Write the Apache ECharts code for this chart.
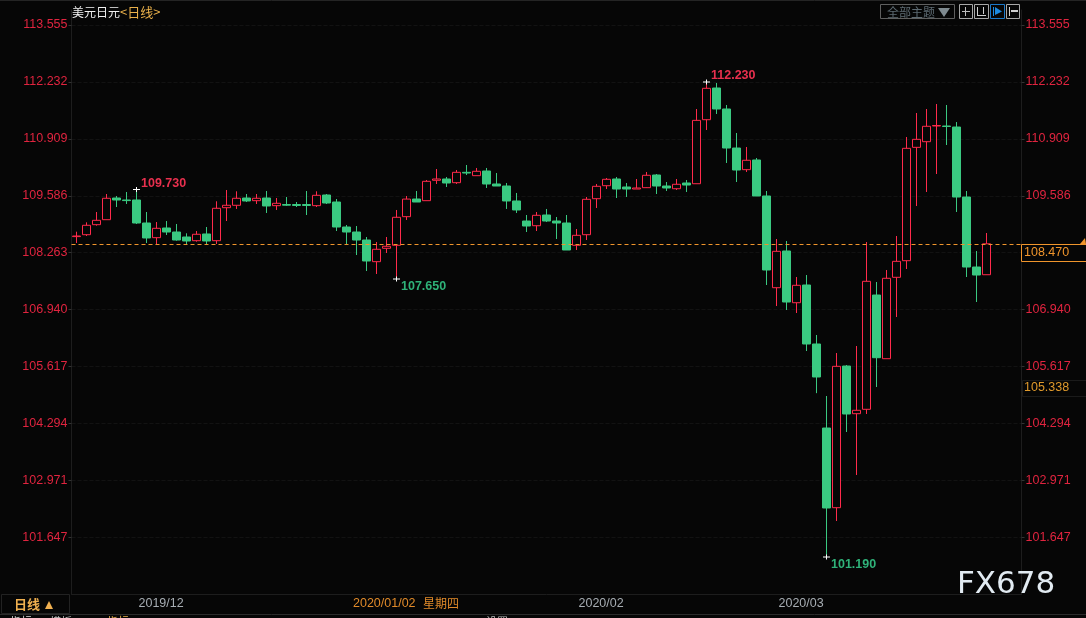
<!DOCTYPE html>
<html><head><meta charset="utf-8">
<style>html,body{margin:0;padding:0;background:#060606}#c{width:1086px;height:618px}</style>
<script src="https://cdn.jsdelivr.net/npm/echarts@6/dist/echarts.min.js"></script>
</head><body><div id="c"></div>
<script>
const dates=['2019/11/22','2019/11/25','2019/11/26','2019/11/27','2019/11/28','2019/11/29',
'2019/12/02','2019/12/03','2019/12/04','2019/12/05','2019/12/06','2019/12/09','2019/12/10','2019/12/11','2019/12/12','2019/12/13',
'2019/12/16','2019/12/17','2019/12/18','2019/12/19','2019/12/20','2019/12/23','2019/12/24','2019/12/26','2019/12/27','2019/12/30','2019/12/31',
'2020/01/01','2020/01/02','2020/01/03','2020/01/06','2020/01/07','2020/01/08','2020/01/09','2020/01/10','2020/01/13','2020/01/14','2020/01/15','2020/01/16','2020/01/17',
'2020/01/20','2020/01/21','2020/01/22','2020/01/23','2020/01/24','2020/01/27','2020/01/28','2020/01/29','2020/01/30','2020/01/31',
'2020/02/03','2020/02/04','2020/02/05','2020/02/06','2020/02/07','2020/02/10','2020/02/11','2020/02/12','2020/02/13','2020/02/14',
'2020/02/17','2020/02/18','2020/02/19','2020/02/20','2020/02/21','2020/02/24','2020/02/25','2020/02/26','2020/02/27','2020/02/28',
'2020/03/02','2020/03/03','2020/03/04','2020/03/05','2020/03/06','2020/03/09','2020/03/10','2020/03/11','2020/03/12','2020/03/13',
'2020/03/16','2020/03/17','2020/03/18','2020/03/19','2020/03/20','2020/03/23','2020/03/24','2020/03/25','2020/03/26','2020/03/27','2020/03/30','2020/03/31',
'','',''];
const opens=[108.637,108.681,108.914,109.030,109.534,109.488,109.488,108.953,108.612,108.837,108.744,108.628,108.542,108.698,108.542,109.309,109.365,109.534,109.472,109.534,109.356,109.383,109.383,109.383,109.356,109.604,109.441,108.860,108.744,108.558,108.054,108.365,108.435,109.100,109.511,109.472,109.946,109.976,109.890,110.131,110.053,110.162,109.860,109.813,109.465,108.999,108.890,109.139,108.999,108.953,108.435,108.681,109.518,109.820,109.976,109.790,109.743,109.774,110.069,109.813,109.750,109.883,109.866,111.354,112.091,111.603,110.696,110.193,110.418,109.581,107.449,108.303,107.100,107.512,106.141,104.188,102.336,105.629,104.521,104.623,107.279,105.799,107.691,108.077,110.712,110.843,111.208,111.208,111.184,109.557,107.930,107.751];
const closes=[108.651,108.900,109.016,109.528,109.488,109.474,108.953,108.605,108.830,108.744,108.558,108.535,108.691,108.535,109.295,109.365,109.528,109.465,109.528,109.349,109.411,109.367,109.360,109.360,109.597,109.418,108.860,108.744,108.558,108.070,108.342,108.412,109.086,109.509,109.441,109.922,109.976,109.883,110.131,110.115,110.155,109.860,109.813,109.465,109.256,108.883,109.132,108.999,108.953,108.325,108.667,109.504,109.806,109.969,109.743,109.743,109.767,110.062,109.813,109.767,109.853,109.836,111.339,112.084,111.603,110.696,110.185,110.411,109.581,107.861,108.295,107.117,107.505,106.141,105.374,102.329,105.622,104.514,104.600,107.598,105.822,107.668,108.062,110.689,110.898,111.201,111.219,111.196,109.557,107.930,107.744,108.470];
const lows=[108.488,108.651,108.891,109.030,109.325,109.395,108.930,108.488,108.458,108.674,108.542,108.465,108.519,108.465,108.465,108.999,109.279,109.441,109.395,109.186,109.256,109.349,109.325,109.139,109.325,109.395,108.767,108.465,108.209,107.837,107.768,108.256,107.650,109.023,109.441,109.472,109.860,109.790,109.860,110.069,110.053,109.767,109.813,109.279,109.186,108.744,108.767,108.976,108.581,108.325,108.325,108.558,109.302,109.743,109.534,109.558,109.743,109.767,109.627,109.697,109.720,109.674,109.866,111.115,111.487,110.348,109.906,110.139,109.581,107.512,107.023,106.931,106.861,105.978,104.998,101.190,102.027,104.095,103.096,104.514,105.141,105.799,106.768,107.884,109.348,109.674,110.092,110.766,109.209,107.698,107.117,107.751];
const highs=[108.751,108.969,109.209,109.627,109.581,109.674,109.730,109.209,108.976,108.999,108.930,108.714,108.767,108.860,109.458,109.720,109.690,109.627,109.627,109.697,109.534,109.558,109.441,109.697,109.690,109.627,109.511,108.907,108.883,108.628,108.512,108.628,109.256,109.581,109.697,109.953,110.208,110.022,110.185,110.301,110.232,110.232,110.115,109.883,109.651,109.139,109.209,109.279,109.093,109.139,108.814,109.558,109.860,109.999,110.022,109.883,109.976,110.139,110.092,109.906,109.976,109.953,111.603,112.230,112.207,111.696,111.045,110.720,110.464,109.697,108.581,108.534,107.698,107.744,106.350,104.932,105.931,105.652,106.094,108.511,107.582,107.861,108.651,110.952,111.510,111.603,111.719,111.696,111.300,109.697,108.302,108.721];
const priceTicks=[113.555,112.232,110.909,109.586,108.263,106.940,105.617,104.294,102.971,101.647];
const monthLabels={'2019/12/02':'2019/12','2020/02/03':'2020/02','2020/03/02':'2020/03'};
const peakHighs=[[6,109.730],[63,112.230]];
const peakLows=[[32,107.650],[75,101.190]];
const lastPrice=108.470, refPrice='105.338';

const RED='#ff2a4b',GREEN='#3ac981',BG='#060606',ORANGE='#f0952c',AXIS='#1d1d1d',TICKRED='#e0243f';
const font='"Liberation Sans",Arial,sans-serif', cjk='"Noto Sans CJK SC","Liberation Sans",sans-serif';
const data=opens.map((o,i)=>[o,closes[i],lows[i],highs[i]]);

function box(x,y,w,h,stroke,fill){return{type:'rect',silent:true,z:100,shape:{x:x+.5,y:y+.5,width:w,height:h},style:{stroke,fill:fill||'transparent',lineWidth:1}};}
function seg(x1,y1,x2,y2,c,w){return{type:'line',silent:true,z:101,shape:{x1,y1,x2,y2},style:{stroke:c,lineWidth:w||1}};}
function txt(x,y,t,f,c,s,weight){return{type:'text',silent:true,z:102,x,y,style:{text:t,font:(weight||'normal')+' '+s+'px '+f,fill:c,verticalAlign:'middle'}};}
function tri(pts,c){return{type:'polygon',silent:true,z:101,shape:{points:pts},style:{fill:c}};}

const graphics=[
  seg(0,0.5,1086,0.5,'#242424'),
  txt(72,12.5,'美元日元',cjk,'#f0f0f0',12),
  txt(120,12.5,'<日线>',cjk,'#e9b04a',13),
  box(880,4,74,14,'#5f5f5f'),
  txt(887,12,'全部主题',cjk,'#5d6a72',12),
  tri([[938,8],[950,8],[944,17]],'#7f8a90'),
  box(959,4,13,14,'#a8a8a8'),seg(962,11.5,970,11.5,'#bdbdbd'),seg(965.5,7,965.5,16,'#bdbdbd'),
  box(974,4,14,14,'#a8a8a8'),seg(977.5,7,977.5,16,'#cfcfcf'),seg(977,15.5,986,15.5,'#cfcfcf'),seg(983.5,7,983.5,14,'#cfcfcf'),
  box(990,4,14,14,'#1c78c8'),seg(993.5,7,993.5,16,'#1c8ae0'),tri([[995,7],[1002,11.5],[995,15]],'#1c8ae0'),
  box(1006,4,13,14,'#a8a8a8'),seg(1009.5,7,1009.5,16,'#cfcfcf'),seg(1011,11,1018,11,'#cfcfcf',2),
  // bottom strip
  box(1,594,68,19,'#222222'),
  txt(14,604,'日线',cjk,'#f0b050',13,'bold'),
  tri([[45,609],[53,609],[49,601]],'#f0b050'),
  txt(353,603.5,'2020/01/02',font,'#e08a2a',12.5),
  txt(423,603.5,'星期四',cjk,'#e08a2a',12),
  seg(0,614.5,1086,614.5,'#2b2b2b'),
  txt(10,622,'指标',cjk,'#d8d8d8',11),txt(50,622,'模板',cjk,'#bdbdbd',11),txt(107,622,'指标',cjk,'#e9b04a',11),txt(486,622,'设置',cjk,'#bdbdbd',11),
  // right side price boxes
  box(1021,244,66,17,ORANGE,BG),
  txt(1024,253,'108.470',font,ORANGE,12.5),
  box(1022,380,66,16,'#1a1a1a',BG),
  txt(1024,388,refPrice,font,'#e09a2c',12.5),
  tri([[1080,244],[1085,238],[1086,244]],ORANGE),
  // watermark
  txt(957,584.5,'FX678','"DejaVu Sans",sans-serif','#e2ebf2',31)
];

const yAxisBase=(position)=>({
  type:'value',position,min:100.330,max:113.904,
  axisLine:{show:true,onZero:false,lineStyle:{color:AXIS}},
  axisTick:{show:true,length:3,customValues:priceTicks,lineStyle:{color:'#333'}},
  axisLabel:{show:true,customValues:priceTicks,margin:4,color:TICKRED,fontSize:12.5,fontFamily:font,
    formatter:v=>Number(v).toFixed(3),showMinLabel:true,showMaxLabel:true},
  splitLine:{show:position==='left',lineStyle:{color:'#121212',type:'dashed'}}
});

const peakPoint=(p,dy,color)=>({coord:[p[0],p[1]],value:p[1].toFixed(3),
  label:{show:true,position:'right',distance:1,offset:[0,dy],formatter:p[1].toFixed(3),color,fontSize:12.5,fontWeight:'bold',fontFamily:font}});

const chart=echarts.init(document.getElementById('c'),null,{renderer:'canvas',width:1086,height:618});
chart.setOption({
  animation:false,backgroundColor:BG,
  grid:{left:71.5,top:10,width:950,bottom:24,containLabel:false},
  xAxis:{type:'category',data:dates,boundaryGap:true,
    axisLine:{show:true,onZero:false,lineStyle:{color:AXIS}},
    axisTick:{show:false},splitLine:{show:false},
    axisLabel:{show:true,hideOverlap:false,align:'left',margin:3,color:'#a7adb3',fontSize:12.5,fontFamily:font,
      padding:[0,0,0,2],
      interval:(i,v)=>v in monthLabels,formatter:v=>monthLabels[v]||''}},
  yAxis:[yAxisBase('left'),yAxisBase('right')],
  series:[{type:'candlestick',data,yAxisIndex:0,barWidth:8,
    itemStyle:{color:BG,color0:GREEN,borderColor:RED,borderColor0:GREEN,borderWidth:1},
    markLine:{silent:true,symbol:'none',animation:false,label:{show:false},
      lineStyle:{color:ORANGE,type:[4,3],width:1},data:[{yAxis:lastPrice}]},
    markPoint:{silent:true,animation:false,
      symbol:'path://M0,2H3V0H4V2H7V3H4V5H3V3H0Z',symbolSize:[7,5],itemStyle:{color:'#ffffff'},
      data:[...peakHighs.map(p=>peakPoint(p,-6,'#e8304e')),...peakLows.map(p=>peakPoint(p,7.5,'#2fb279'))]}
  },{type:'line',yAxisIndex:1,data:[],silent:true}],
  graphic:graphics
});
</script></body></html>
